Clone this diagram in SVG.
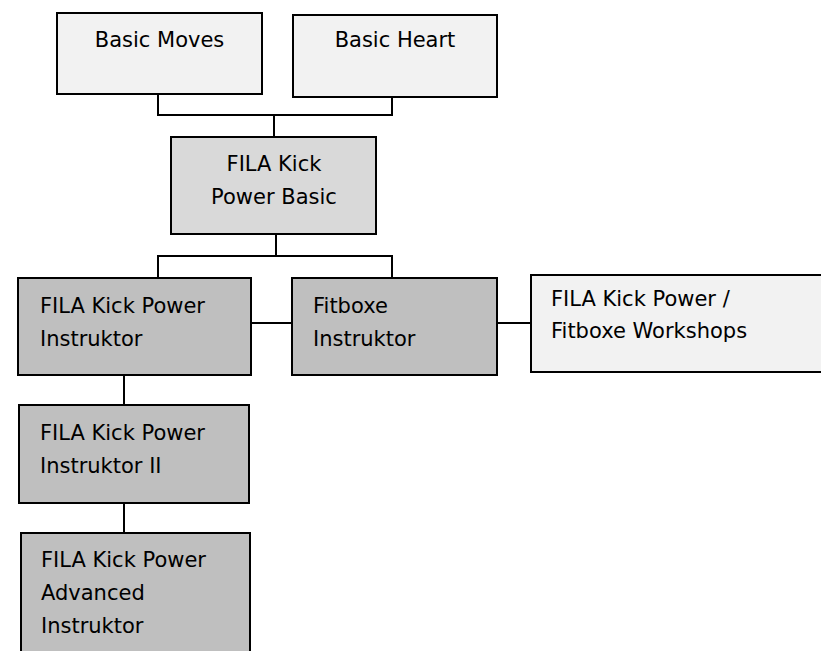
<svg xmlns="http://www.w3.org/2000/svg" width="821" height="651" viewBox="0 0 821 651">
<style>
.box{stroke:#000;stroke-width:2}
.l1{fill:#f2f2f2}
.l2{fill:#d9d9d9}
.l3{fill:#bfbfbf}
text{font-family:"DejaVu Sans",Verdana,sans-serif;font-size:21px;fill:#000}
.c{text-anchor:middle}
.conn{fill:none;stroke:#000;stroke-width:2}
</style>
<rect width="821" height="651" fill="#fff"/>
<g id="connectors" class="conn">
<polyline points="158,94 158,115 392,115 392,97"/>
<line x1="274" y1="115" x2="274" y2="137"/>
<polyline points="158,278 158,256 392,256 392,278"/>
<line x1="276" y1="234" x2="276" y2="256"/>
<line x1="251" y1="323" x2="292" y2="323"/>
<line x1="497" y1="323" x2="531" y2="323"/>
<line x1="124" y1="375" x2="124" y2="405"/>
<line x1="124" y1="503" x2="124" y2="533"/>
</g>
<g id="basic-moves">
<rect class="box l1" x="57" y="13" width="205" height="81"/>
<text class="c" x="159.5" y="47">Basic Moves</text>
</g>
<g id="basic-heart">
<rect class="box l1" x="293" y="15" width="204" height="82"/>
<text class="c" x="395" y="47">Basic Heart</text>
</g>
<g id="fila-basic">
<rect class="box l2" x="171" y="137" width="205" height="97"/>
<text class="c" x="274" y="171">FILA Kick</text>
<text class="c" x="274" y="204">Power Basic</text>
</g>
<g id="fila-instruktor">
<rect class="box l3" x="18" y="278" width="233" height="97"/>
<text x="40" y="313">FILA Kick Power</text>
<text x="40" y="346">Instruktor</text>
</g>
<g id="fitboxe-instruktor">
<rect class="box l3" x="292" y="278" width="205" height="97"/>
<text x="313" y="313">Fitboxe</text>
<text x="313" y="346">Instruktor</text>
</g>
<g id="workshops">
<rect class="box l1" x="531" y="275" width="300" height="97"/>
<text x="551" y="306">FILA Kick Power /</text>
<text x="551" y="338">Fitboxe Workshops</text>
</g>
<g id="fila-instruktor-2">
<rect class="box l3" x="19" y="405" width="230" height="98"/>
<text x="40" y="440">FILA Kick Power</text>
<text x="40" y="473">Instruktor II</text>
</g>
<g id="fila-advanced">
<rect class="box l3" x="21" y="533" width="229" height="140"/>
<text x="41" y="567">FILA Kick Power</text>
<text x="41" y="600">Advanced</text>
<text x="41" y="633">Instruktor</text>
</g>
</svg>
